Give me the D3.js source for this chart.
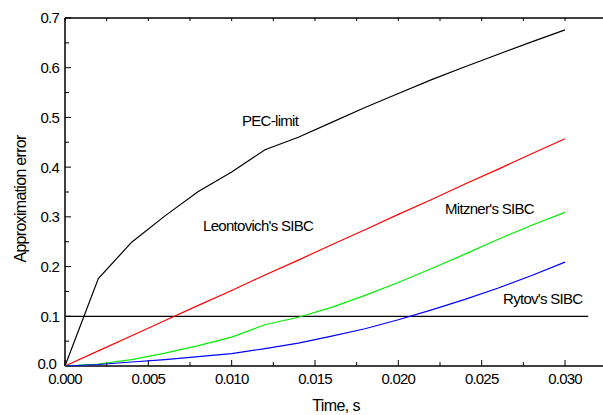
<!DOCTYPE html>
<html>
<head>
<meta charset="utf-8">
<script src="https://cdn.jsdelivr.net/npm/d3@7"></script>
<style>
  body { margin: 0; background: #fff; }
  text { font-family: "Liberation Sans", Arial, sans-serif; fill: #000; }
</style>
</head>
<body>
<div id="chart"></div>
<script>
// data
var time = [0, 0.002, 0.004, 0.006, 0.008, 0.010, 0.012, 0.014, 0.016, 0.018, 0.020, 0.022, 0.024, 0.026, 0.028, 0.030];
var pecLimit = [0, 0.176, 0.249, 0.302, 0.351, 0.390, 0.435, 0.460, 0.490, 0.520, 0.548, 0.576, 0.602, 0.627, 0.652, 0.676];
var leontovich = [0, 0.0305, 0.061, 0.0914, 0.122, 0.152, 0.183, 0.213, 0.244, 0.274, 0.305, 0.335, 0.366, 0.396, 0.427, 0.457];
var mitzner = [0, 0.004, 0.013, 0.026, 0.041, 0.058, 0.083, 0.098, 0.118, 0.142, 0.168, 0.196, 0.225, 0.255, 0.283, 0.309];
var rytov = [0, 0.003, 0.008, 0.013, 0.019, 0.025, 0.035, 0.046, 0.060, 0.075, 0.093, 0.113, 0.134, 0.157, 0.182, 0.209];
var threshold = 0.1;
var thresholdEnd = 0.0314;

var xTicks = [0, 0.005, 0.010, 0.015, 0.020, 0.025, 0.030];
var yTicks = [0, 0.1, 0.2, 0.3, 0.4, 0.5, 0.6, 0.7];

var series = [
  {name: "PEC-limit", values: pecLimit, color: "#000000", lx: 242, ly: 126},
  {name: "Leontovich's SIBC", values: leontovich, color: "#ff0000", lx: 203, ly: 231},
  {name: "Mitzner's SIBC", values: mitzner, color: "#00ee00", lx: 445, ly: 214},
  {name: "Rytov's SIBC", values: rytov, color: "#0000ff", lx: 503, ly: 304}
];

var width = 603, height = 415;
var margin = {left: 65, top: 18, right: 0, bottom: 49};

var svg = d3.select("#chart").append("svg")
    .attr("width", width)
    .attr("height", height);

var x = d3.scaleLinear()
    .domain([0, 0.030])
    .range([margin.left, 565]);
var xMax = x.invert(width);
x.domain([0, xMax]).range([margin.left, width]);

var y = d3.scaleLinear()
    .domain([0, 0.7])
    .range([height - margin.bottom, margin.top]);

var fmtX = d3.format(".3f"), fmtY = d3.format(".1f");

var minorX = d3.range(0, xMax, 0.0025);
var minorY = d3.range(0, 0.7001, 0.05);

// bottom axis
var xAxis = svg.append("g").attr("transform", "translate(0," + y(0) + ")");
xAxis.append("line").attr("x1", x(0)).attr("x2", width).attr("stroke", "#000").attr("stroke-width", 1.5);
xAxis.selectAll(".minor").data(minorX).enter().append("line")
    .attr("x1", d => x(d)).attr("x2", d => x(d))
    .attr("y1", 0).attr("y2", d => xTicks.some(t => Math.abs(t - d) < 1e-9) ? -6 : -4)
    .attr("stroke", "#000");
xAxis.selectAll("text").data(xTicks).enter().append("text")
    .attr("x", d => x(d)).attr("y", 18)
    .attr("text-anchor", "middle")
    .style("font-size", "15px")
    .style("letter-spacing", "-0.8px")
    .text(d => fmtX(d));

// top axis
var topAxis = svg.append("g").attr("transform", "translate(0," + y(0.7) + ")");
topAxis.append("line").attr("x1", x(0)).attr("x2", width).attr("stroke", "#000").attr("stroke-width", 1.5);
topAxis.selectAll(".minor").data(minorX).enter().append("line")
    .attr("x1", d => x(d)).attr("x2", d => x(d))
    .attr("y1", 0).attr("y2", 3)
    .attr("stroke", "#000");

// left axis
var yAxis = svg.append("g").attr("transform", "translate(" + x(0) + ",0)");
yAxis.append("line").attr("y1", y(0)).attr("y2", y(0.7)).attr("stroke", "#000").attr("stroke-width", 1.5);
yAxis.selectAll(".minor").data(minorY).enter().append("line")
    .attr("y1", d => y(d)).attr("y2", d => y(d))
    .attr("x1", 0).attr("x2", d => (Math.round(d * 100) % 10 === 0) ? 6 : 4)
    .attr("stroke", "#000");
yAxis.selectAll("text").data(yTicks).enter().append("text")
    .attr("x", d => d === 0 ? -9 : -6).attr("y", d => d === 0 ? y(d) - 2 : y(d)).attr("dy", "0.36em")
    .attr("text-anchor", "end")
    .style("font-size", "15px")
    .style("letter-spacing", "-0.8px")
    .text(d => fmtY(d));

// axis titles
svg.append("text")
    .attr("transform", "translate(26," + ((y(0) + y(0.7)) / 2 + 7) + ") rotate(-90)")
    .attr("text-anchor", "middle")
    .style("font-size", "16px")
    .style("letter-spacing", "-0.7px")
    .text("Approximation error");
svg.append("text")
    .attr("x", 336).attr("y", 411)
    .attr("text-anchor", "middle")
    .style("font-size", "16px")
    .style("letter-spacing", "-0.6px")
    .text("Time, s");

// threshold line
svg.append("line")
    .attr("x1", x(0)).attr("x2", x(thresholdEnd))
    .attr("y1", y(threshold)).attr("y2", y(threshold))
    .attr("stroke", "#000").attr("stroke-width", 1.2);

var line = d3.line()
    .x((d, i) => x(time[i]))
    .y(d => y(d));

svg.selectAll(".series").data(series).enter().append("path")
    .attr("class", "series")
    .attr("d", d => line(d.values))
    .attr("fill", "none")
    .attr("stroke", d => d.color)
    .attr("stroke-width", 1.2);

svg.selectAll(".label").data(series).enter().append("text")
    .attr("class", "label")
    .attr("x", d => d.lx).attr("y", d => d.ly)
    .style("font-size", "15px")
    .style("letter-spacing", "-0.7px")
    .text(d => d.name);
</script>
</body>
</html>
